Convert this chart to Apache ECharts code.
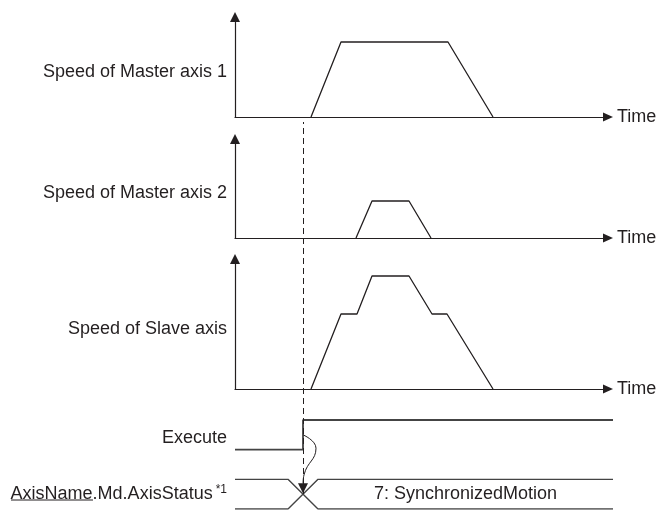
<!DOCTYPE html>
<html lang="en">
<head>
    <meta charset="UTF-8">
    <title>Synchronized motion timing</title>
    <style>
        html, body { margin: 0; padding: 0; background: #ffffff; }
        #container { width: 658px; height: 511px; }
    </style>
</head>
<body>
<div id="container"></div>
<script src="https://cdn.jsdelivr.net/npm/echarts@6/dist/echarts.min.js"></script>
<script>
    // time axis (same scale in every panel)
    var speedTimeMax = 373;
    var timingTimeMax = 378;
    var executeTime = 68;

    // speed profiles
    var master1Time = [76, 106, 213, 258];
    var master1Speed = [0, 75, 75, 0];
    var master2Time = [121, 137, 174, 196];
    var master2Speed = [0, 37, 37, 0];
    var slaveTime = [76, 106, 122, 137, 174, 197, 212, 258];
    var slaveSpeed = [0, 75, 75, 113, 113, 75, 75, 0];
    var speedMax = [100, 99, 130];
    var speedLabels = ['Speed of Master axis 1', 'Speed of Master axis 2', 'Speed of Slave axis'];

    // timing signals (levels: Execute 2..3, AxisStatus bus 0..1)
    var executeTimes = [0, 68, 68, 378];
    var executeLevel = [2, 2, 3, 3];
    var busTimes = [0, 53, 83, 378];
    var busUpper = [1, 1, 0, 0];
    var busLower = [0, 0, 1, 1];
    var waveTimes = [68, 81, 69, 68];
    var waveLevel = [2.5, 2.05, 1.15, 0.86];
    var arrowHead = [68, 0.7];
    var signalLevels = [2.4, 0.5];
    var signalNames = ['Execute', '{u|AxisName}.Md.AxisStatus{sup|*1}'];
    var statusText = '7: SynchronizedMotion';
    var statusPos = [230.5, 0.5];

    var ink = '#231f20';
    var font = 'Liberation Sans, Arial, sans-serif';

    function pairs(xs, ys) {
        var out = [];
        for (var i = 0; i < xs.length; i++) {
            out.push([xs[i], ys[i]]);
        }
        return out;
    }

    var chart = echarts.init(document.getElementById('container'));

    var gridTops = [17, 139, 259];
    var gridHeights = [100, 99, 130];

    var grids = [];
    var xAxes = [];
    var yAxes = [];
    for (var g = 0; g < 3; g++) {
        grids.push({ left: 235, right: 50, top: gridTops[g], height: gridHeights[g], outerBoundsMode: 'none', containLabel: false });
        xAxes.push({
            gridIndex: g, type: 'value', min: 0, max: speedTimeMax,
            name: 'Time', nameLocation: 'end', nameGap: 9,
            nameTextStyle: { color: ink, fontSize: 18, fontFamily: font, align: 'left', verticalAlign: 'middle' },
            axisLine: { show: true, onZero: false, symbol: ['none', 'triangle'], symbolSize: [9, 10], lineStyle: { color: ink, width: 1.2 } },
            axisTick: { show: false }, axisLabel: { show: false }, splitLine: { show: false }
        });
        yAxes.push({
            gridIndex: g, type: 'value', min: 0, max: speedMax[g],
            name: speedLabels[g], nameLocation: 'middle', nameRotate: 0, nameGap: 8,
            nameTextStyle: { color: ink, fontSize: 18, fontFamily: font, align: 'right', verticalAlign: 'top', lineHeight: 10 },
            axisLine: { show: true, symbol: ['none', 'triangle'], symbolSize: [10, 10], lineStyle: { color: ink, width: 1.2 } },
            axisTick: { show: false }, axisLabel: { show: false }, splitLine: { show: false }
        });
    }
    // timing grid
    grids.push({ left: 235, right: 45, top: 420, height: 89, outerBoundsMode: 'none', containLabel: false });
    xAxes.push({ gridIndex: 3, type: 'value', min: 0, max: timingTimeMax, show: false });
    yAxes.push({
        gridIndex: 3, type: 'value', min: 0, max: 3, interval: 0.1,
        axisLine: { show: false }, axisTick: { show: false }, splitLine: { show: false },
        axisLabel: {
            show: true, margin: 8, color: ink, fontSize: 18, fontFamily: font,
            formatter: function (v) {
                for (var i = 0; i < signalLevels.length; i++) {
                    if (Math.abs(v - signalLevels[i]) < 1e-6) return signalNames[i];
                }
                return '';
            },
            rich: {
                u: { fontSize: 18, fontFamily: font, color: ink },
                sup: { fontSize: 12, fontFamily: font, color: ink, verticalAlign: 'top', padding: [0, 0, 8, 3] }
            }
        }
    });
    // overlay grid for the dashed trigger line
    grids.push({ left: 235, right: 45, top: 122, height: 372, outerBoundsMode: 'none', containLabel: false });
    xAxes.push({ gridIndex: 4, type: 'value', min: 0, max: timingTimeMax, show: false });
    yAxes.push({ gridIndex: 4, type: 'value', min: 0, max: 1, show: false });

    var lineBase = { type: 'line', symbol: 'none', silent: true };

    var option = {
        backgroundColor: '#ffffff',
        animation: false,
        grid: grids,
        xAxis: xAxes,
        yAxis: yAxes,
        series: [
            Object.assign({}, lineBase, { xAxisIndex: 0, yAxisIndex: 0, data: pairs(master1Time, master1Speed), lineStyle: { color: ink, width: 1.3 } }),
            Object.assign({}, lineBase, { xAxisIndex: 1, yAxisIndex: 1, data: pairs(master2Time, master2Speed), lineStyle: { color: ink, width: 1.3 } }),
            Object.assign({}, lineBase, { xAxisIndex: 2, yAxisIndex: 2, data: pairs(slaveTime, slaveSpeed), lineStyle: { color: ink, width: 1.3 } }),
            Object.assign({}, lineBase, { xAxisIndex: 3, yAxisIndex: 3, data: pairs(executeTimes, executeLevel), lineStyle: { color: '#444', width: 1.8 } }),
            Object.assign({}, lineBase, { xAxisIndex: 3, yAxisIndex: 3, data: pairs(busTimes, busUpper), lineStyle: { color: '#444', width: 1.4 } }),
            Object.assign({}, lineBase, { xAxisIndex: 3, yAxisIndex: 3, data: pairs(busTimes, busLower), lineStyle: { color: '#444', width: 1.4 } }),
            Object.assign({}, lineBase, { xAxisIndex: 3, yAxisIndex: 3, smooth: 0.5, data: pairs(waveTimes, waveLevel), lineStyle: { color: ink, width: 1 } }),
            {
                type: 'scatter', xAxisIndex: 3, yAxisIndex: 3, silent: true,
                symbol: 'triangle', symbolRotate: 180, symbolSize: [10, 10],
                itemStyle: { color: ink, opacity: 1 },
                data: [arrowHead]
            },
            {
                type: 'scatter', xAxisIndex: 3, yAxisIndex: 3, silent: true, symbolSize: 0,
                itemStyle: { opacity: 1 },
                label: { show: true, position: 'inside', formatter: '{b}', color: ink, fontSize: 18, fontFamily: font, opacity: 1 },
                data: [{ name: statusText, value: statusPos }]
            },
            {
                type: 'line', xAxisIndex: 4, yAxisIndex: 4, data: [], silent: true,
                markLine: {
                    silent: true, symbol: 'none', label: { show: false },
                    lineStyle: { color: ink, width: 1, type: [6, 4] },
                    data: [{ xAxis: executeTime }]
                }
            }
        ],
        graphic: [{
            type: 'line', silent: true,
            shape: { x1: 11, y1: 500, x2: 93, y2: 500 },
            style: { stroke: ink, lineWidth: 1 }
        }]
    };
    chart.setOption(option);
</script>
</body>
</html>
